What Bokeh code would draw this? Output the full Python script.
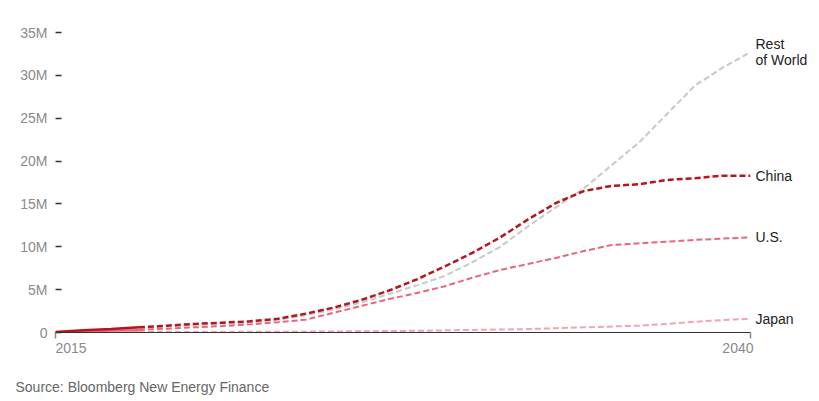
from bokeh.plotting import figure
from bokeh.models import Range1d, FixedTicker, Label, LinearAxis
from bokeh.embed import file_html
from bokeh.resources import INLINE

years = [2015, 2016, 2017, 2018, 2019, 2020, 2021, 2022, 2023, 2024, 2025, 2026, 2027,
         2028, 2029, 2030, 2031, 2032, 2033, 2034, 2035, 2036, 2037, 2038, 2039, 2040]
hist_end = 2018  # solid (historical) segment ends here

china = [0.05, 0.25, 0.4, 0.6, 0.8, 1.0, 1.15, 1.3, 1.6, 2.2, 2.9, 3.8, 4.9,
         6.2, 7.7, 9.3, 11.1, 13.2, 15.1, 16.5, 17.1, 17.3, 17.8, 18.0, 18.3, 18.3]
rest_of_world = [0.05, 0.2, 0.35, 0.5, 0.7, 0.9, 1.05, 1.2, 1.5, 2.0, 2.7, 3.5, 4.5,
                 5.5, 6.6, 8.2, 10.0, 12.4, 14.6, 16.8, 19.5, 22.2, 25.5, 28.8, 30.9, 32.7]
us = [0.03, 0.1, 0.2, 0.3, 0.45, 0.6, 0.75, 0.95, 1.2, 1.5, 2.3, 3.1, 3.9,
      4.6, 5.4, 6.4, 7.3, 8.0, 8.7, 9.5, 10.2, 10.4, 10.6, 10.8, 10.95, 11.1]
japan = [0.02, 0.03, 0.04, 0.05, 0.05, 0.06, 0.07, 0.08, 0.09, 0.1, 0.12, 0.14, 0.17,
         0.2, 0.25, 0.3, 0.35, 0.4, 0.5, 0.6, 0.7, 0.8, 1.0, 1.25, 1.45, 1.6]

y_ticks = [0, 5, 10, 15, 20, 25, 30, 35]
y_tick_labels = ["0", "5M", "10M", "15M", "20M", "25M", "30M", "35M"]
x_tick_labels = ["2015", "2040"]
source_text = "Source: Bloomberg New Energy Finance"

FONT = "Liberation Sans"

series = [
    ("Rest\nof World", rest_of_world, "#c8c8c8", 2.0),
    ("Japan", japan, "#f2a3ae", 2.0),
    ("U.S.", us, "#e6677d", 2.0),
    ("China", china, "#b3161f", 2.5),
]

p = figure(width=819, height=401, output_backend="svg", toolbar_location=None,
           x_range=Range1d(years[0], years[-1]), y_range=Range1d(0, 35),
           min_border_left=55, min_border_right=69, min_border_top=32,
           min_border_bottom=69)
p.outline_line_color = None
p.background_fill_color = "white"
p.border_fill_color = "white"
p.xgrid.visible = False
p.ygrid.visible = False

# y axis
p.yaxis.ticker = FixedTicker(ticks=y_ticks)
p.yaxis.major_label_overrides = {t: l for t, l in zip(y_ticks, y_tick_labels)}
p.yaxis.axis_line_color = None
p.yaxis.major_tick_in = 6
p.yaxis.major_tick_out = 0
p.yaxis.major_tick_line_color = "#333333"
p.yaxis.major_tick_line_width = 1.5
p.yaxis.minor_tick_line_color = None
p.yaxis.major_label_standoff = 8
p.yaxis.major_label_text_font = FONT
p.yaxis.major_label_text_font_size = "14px"
p.yaxis.major_label_text_color = "#8a8a8a"

# x axis
p.xaxis.ticker = FixedTicker(ticks=[years[0], years[-1]])
p.xaxis.axis_line_color = "#333333"
p.xaxis.axis_line_width = 1
p.xaxis.major_tick_in = 0
p.xaxis.major_tick_out = 6
p.xaxis.major_tick_line_color = "#888888"
p.xaxis.major_tick_line_width = 1.5
p.xaxis.minor_tick_line_color = None
p.xaxis.major_label_text_alpha = 0
p.xaxis.major_label_text_font_size = "1px"
p.xaxis.major_label_standoff = 0

n_hist = years.index(hist_end) + 1
for name, vals, color, lw in series:
    p.line(years[:n_hist], vals[:n_hist], line_color=color, line_width=lw)
    p.line(years[n_hist - 1:], vals[n_hist - 1:], line_color=color, line_width=lw,
           line_dash="6 3")

# end labels via a right-hand axis whose ticks sit at each series' last value
end_ticks = [s[1][-1] for s in series]
right = LinearAxis(ticker=FixedTicker(ticks=end_ticks),
                   major_label_overrides={s[1][-1]: s[0] for s in series})
right.axis_line_color = None
right.major_tick_line_color = None
right.minor_tick_line_color = None
right.major_tick_in = 0
right.major_tick_out = 0
right.major_label_standoff = 5
right.major_label_text_font = FONT
right.major_label_text_font_size = "14px"
right.major_label_text_color = "#222222"
right.major_label_text_line_height = 1.0
p.add_layout(right, "right")

# x tick labels and source line (held in side panels so they are not clipped to the frame)
p.add_layout(Label(x=years[0], y=0, text=x_tick_labels[0], y_offset=-15,
                   text_baseline="middle", text_align="left", text_font=FONT,
                   text_font_size="14px", text_color="#8a8a8a"), "above")
p.add_layout(Label(x=years[-1], y=0, text=x_tick_labels[1], y_offset=-15, x_offset=3,
                   text_baseline="middle", text_align="right", text_font=FONT,
                   text_font_size="14px", text_color="#8a8a8a"), "above")
p.add_layout(Label(x=years[0], y=0, text=source_text, x_offset=-40, y_offset=-54,
                   text_baseline="middle", text_align="left", text_font=FONT,
                   text_font_size="14px", text_color="#666666"), "below")

open("out.html", "w").write(file_html(p, INLINE))
